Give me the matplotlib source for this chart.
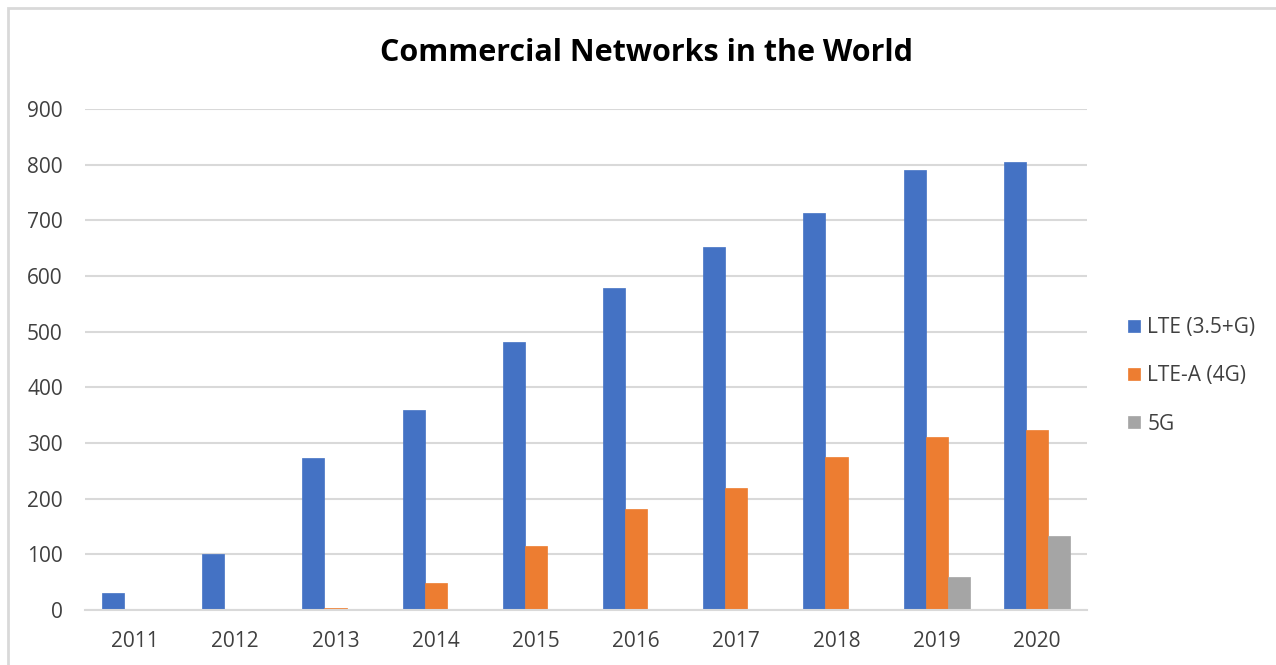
import matplotlib
matplotlib.use("Agg")
import matplotlib.pyplot as plt
import numpy as np
from matplotlib.patches import Rectangle

# data
years = ["2011", "2012", "2013", "2014", "2015", "2016", "2017", "2018", "2019", "2020"]
lte = [30, 100, 273, 359, 481, 578, 652, 713, 791, 805]
lte_a = [0, 0, 3, 49, 115, 181, 219, 275, 310, 324]
five_g = [0, 0, 0, 0, 0, 0, 0, 0, 60, 133]
series_names = ["LTE (3.5+G)", "LTE-A (4G)", "5G"]
colors = ["#4472C4", "#ED7D31", "#A5A5A5"]

plt.rcParams['font.family'] = ['Open Sans', 'DejaVu Sans']

W, H = 1276, 665
fig = plt.figure(figsize=(W / 100, H / 100), dpi=100)

# outer chart border
fig.patches.append(Rectangle((8 / W, -0.1), 1.2, (H - 8) / H + 0.1,
                             transform=fig.transFigure, fill=False,
                             edgecolor="#d9d9d9", linewidth=2))

ax = fig.add_axes([85 / W, (H - 610) / H, (1087 - 85) / W, (610 - 109) / H])

x = np.arange(len(years))
bw = 0.22
for i, (vals, name, c) in enumerate(zip([lte, lte_a, five_g], series_names, colors)):
    ax.bar(x + (i - 1) * bw, vals, width=bw, color=c, label=name,
           edgecolor=c, linewidth=0.5)

ax.set_xlim(-0.5, len(years) - 0.5)
ax.set_ylim(0, 900)
ax.set_yticks(range(0, 901, 100))
ax.set_xticks(x)
ax.set_xticklabels(years)
ax.yaxis.grid(True, color="#d9d9d9", linewidth=1.5)
ax.set_axisbelow(True)
for s in ["top", "right", "left"]:
    ax.spines[s].set_visible(False)
ax.spines["bottom"].set_color("#d9d9d9")
ax.spines["bottom"].set_linewidth(1.5)
ax.tick_params(axis="both", length=0, labelsize=15, colors="#404040")
ax.tick_params(axis="y", pad=16)
ax.tick_params(axis="x", pad=15)

fig.text(646 / W, 1 - 53 / H, "Commercial Networks in the World",
         ha="center", va="center", fontsize=22, fontweight="bold", color="black")

leg = ax.legend(loc="center left", bbox_to_anchor=(1118 / W, 1 - 376 / H),
                bbox_transform=fig.transFigure, frameon=False, fontsize=15,
                handlelength=0.55, handleheight=0.55, handletextpad=0.35,
                labelspacing=1.3, borderpad=0)
for t in leg.get_texts():
    t.set_color("#404040")

fig.savefig("out.png", dpi=100, facecolor="white")
